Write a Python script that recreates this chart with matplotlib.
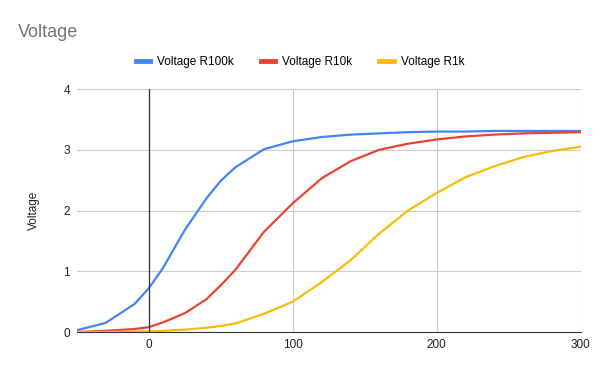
import matplotlib
matplotlib.use('Agg')
import matplotlib.pyplot as plt

plt.rcParams['font.family'] = ['Liberation Sans', 'DejaVu Sans']

# time values (x) and voltages
x = [-50, -30, -10, 0, 10, 25, 40, 50, 60, 80, 100, 120, 140, 160, 180, 200,
     220, 240, 260, 280, 300]
v_r100k = [0.03, 0.15, 0.46, 0.72, 1.06, 1.68, 2.2, 2.49, 2.71, 3.01, 3.14,
           3.21, 3.25, 3.27, 3.29, 3.30, 3.30, 3.31, 3.31, 3.31, 3.31]
v_r10k = [0.0, 0.02, 0.05, 0.08, 0.16, 0.31, 0.54, 0.77, 1.02, 1.65, 2.12,
          2.53, 2.81, 3.0, 3.1, 3.17, 3.22, 3.25, 3.27, 3.28, 3.29]
v_r1k = [0.0, 0.0, 0.01, 0.01, 0.02, 0.04, 0.07, 0.1, 0.14, 0.3, 0.5,
         0.82, 1.18, 1.62, 2.0, 2.29, 2.55, 2.73, 2.88, 2.98, 3.05]

fig = plt.figure(figsize=(6, 3.71), dpi=100)
ax = fig.add_axes([0.128, 0.105, 0.84, 0.655])

ax.plot(x, v_r100k, color='#4285F4', lw=1.6, label='Voltage R100k')
ax.plot(x, v_r10k, color='#EA4335', lw=1.6, label='Voltage R10k')
ax.plot(x, v_r1k, color='#FBBC04', lw=1.6, label='Voltage R1k')

ax.set_xlim(-50, 300)
ax.set_ylim(0, 4)
ax.set_xticks([0, 100, 200, 300])
ax.set_yticks([0, 1, 2, 3, 4])
ax.grid(color='#cccccc', lw=0.8)
ax.set_axisbelow(True)
ax.axvline(0, color='#333333', lw=0.9)
for s in ['top', 'right', 'left']:
    ax.spines[s].set_visible(False)
ax.spines['bottom'].set_color('#333333')
ax.tick_params(length=0, labelsize=8.5, colors='#222222', pad=5)
ax.set_ylabel('Voltage', fontsize=8.5, color='#222222', labelpad=17)

fig.text(0.03, 0.913, 'Voltage', fontsize=13, color='#757575', va='center')
fig.legend(loc='center', bbox_to_anchor=(0.5, 0.833), ncol=3, frameon=False,
           fontsize=8.5, handlelength=1.2, columnspacing=2.3, handletextpad=0.6)
for h in fig.legends[0].get_lines():
    h.set_linewidth(3.5)

plt.savefig('out.png', dpi=100)
